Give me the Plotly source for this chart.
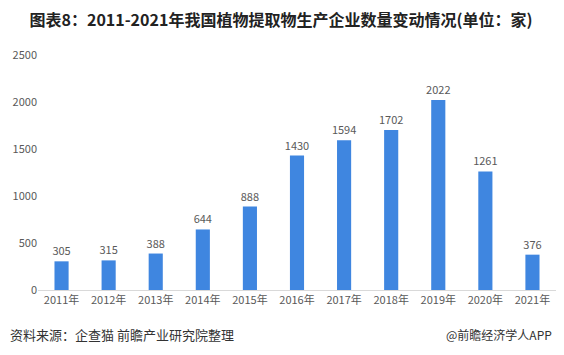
import plotly.graph_objects as go

years = ["2011年", "2012年", "2013年", "2014年", "2015年", "2016年",
         "2017年", "2018年", "2019年", "2020年", "2021年"]
counts = [305, 315, 388, 644, 888, 1430, 1594, 1702, 2022, 1261, 376]
y_ticks = [0, 500, 1000, 1500, 2000, 2500]

title_text = "图表8：2011-2021年我国植物提取物生产企业数量变动情况(单位：家)"
source_text = "资料来源：企查猫 前瞻产业研究院整理"
brand_text = "@前瞻经济学人APP"

FONT = "Noto Sans CJK SC, Liberation Sans, sans-serif"

fig = go.Figure()
fig.add_trace(go.Bar(
    x=years, y=counts,
    marker=dict(color="#3F86E0", line=dict(width=0)),
    text=[str(v) for v in counts],
    textposition="outside",
    constraintext="none",
    textfont=dict(size=11, color="#595959", family=FONT),
    cliponaxis=False,
))

fig.update_layout(
    width=556, height=347,
    margin=dict(l=30, r=8, t=47, b=65, autoexpand=False),
    paper_bgcolor="white", plot_bgcolor="white",
    bargap=0.7,
    showlegend=False,
    font=dict(family=FONT, color="#595959", size=11),
    title=dict(text="<b>" + title_text + "</b>", x=0.491, xanchor="center",
               y=0.965, yanchor="middle",
               font=dict(size=16, color="#222222", family=FONT)),
    xaxis=dict(showgrid=False, showline=True, linecolor="#D9D9D9", linewidth=1,
               ticks="", automargin=False, tickfont=dict(size=11, color="#595959")),
    yaxis=dict(range=[0, 2500], tickvals=y_ticks, showgrid=False, zeroline=False,
               showline=False, ticks="", automargin=False,
               tickfont=dict(size=11, color="#595959")),
    annotations=[
        dict(text=source_text, xref="paper", yref="paper", x=-0.058, y=-0.191,
             xanchor="left", yanchor="middle", showarrow=False,
             font=dict(size=13, color="#333333", family=FONT)),
        dict(text=brand_text, xref="paper", yref="paper", x=0.996, y=-0.191,
             xanchor="right", yanchor="middle", showarrow=False,
             font=dict(size=12, color="#333333", family=FONT)),
    ],
)

fig.write_html("out.html")
